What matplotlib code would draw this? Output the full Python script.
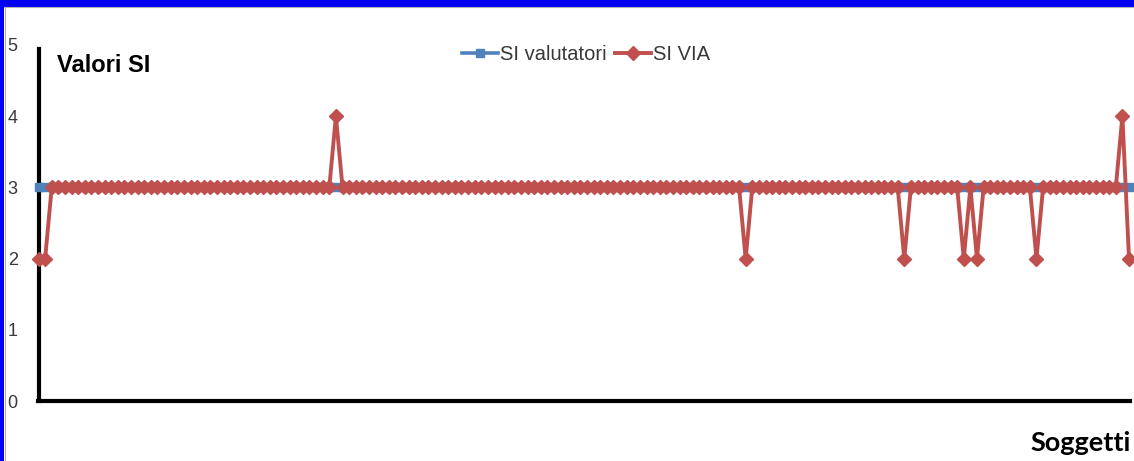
import matplotlib
matplotlib.use("Agg")
import matplotlib.pyplot as plt
from matplotlib.patches import Rectangle
from matplotlib.lines import Line2D
import numpy as np

# data: 166 subjects, evaluators all give 3
n_subjects = 166
si_valutatori = [3] * n_subjects
si_via = [3] * n_subjects
low_idx = [0, 1, 107, 131, 140, 142, 151, 165]   # SI VIA = 2
high_idx = [45, 164]                             # SI VIA = 4
for i in low_idx:
    si_via[i] = 2
for i in high_idx:
    si_via[i] = 4

y_ticks = [0, 1, 2, 3, 4, 5]
labels = ["SI valutatori", "SI VIA"]

BLUE = "#4F81BD"
RED = "#C0504D"
W, H = 1134, 461

fig = plt.figure(figsize=(W / 100, H / 100), dpi=100)
fig.patch.set_facecolor("white")

# blue frame of the slide (top band + left strip)
fig.patches.append(Rectangle((0, 1 - 7 / H), 1, 7 / H, transform=fig.transFigure,
                             facecolor="#0000F0", edgecolor="none", zorder=0))
fig.patches.append(Rectangle((0, 0), 4 / W, 1, transform=fig.transFigure,
                             facecolor="#0000FF", edgecolor="none", zorder=0))
fig.add_artist(Line2D([4.5 / W, 4.5 / W], [0, 1 - 7 / H], transform=fig.transFigure,
                      color="#B0B0B0", lw=0.8))
fig.add_artist(Line2D([4 / W, 1], [1 - 7.5 / H, 1 - 7.5 / H], transform=fig.transFigure,
                      color="#B0B0B0", lw=0.8))

left, right = 38.5, 1129
bottom, top = 401, 45
ax = fig.add_axes([left / W, 1 - bottom / H, (right - left) / W, (bottom - top) / H])

x = np.arange(n_subjects)
ax.plot(x, si_valutatori, color=BLUE, lw=2.6, marker="s", ms=6,
        mec=BLUE, mfc=BLUE, clip_on=False, zorder=3, label=labels[0])
ax.plot(x, si_via, color=RED, lw=2.8, marker="D", ms=7.5,
        mec=RED, mfc=RED, clip_on=False, zorder=4, label=labels[1])

ax.set_xlim(0, n_subjects - 1)
ax.set_ylim(0, 5)
ax.set_yticks(y_ticks)
ax.set_xticks([])
ax.tick_params(axis="y", length=0, pad=15, labelsize=13, labelcolor="#383838")
for lab in ax.get_yticklabels():
    lab.set_fontfamily("Liberation Sans")

for side in ["top", "right"]:
    ax.spines[side].set_visible(False)
ax.spines["left"].set_linewidth(3)
ax.spines["bottom"].set_linewidth(3)
ax.spines["left"].set_bounds(0, 4.95)
ax.spines["bottom"].set_bounds(-0.1, n_subjects - 0.8)
ax.spines["left"].set_capstyle("projecting")

leg = ax.legend(loc="upper center", bbox_to_anchor=(0.502, 1.05), ncol=2, frameon=False,
                prop={"family": "Liberation Sans", "size": 14.5},
                handlelength=1.8, handletextpad=0.1, columnspacing=0.4)
for t in leg.get_texts():
    t.set_color("#383838")

fig.text(57 / W, 1 - 66 / H, "Valori SI", fontsize=17, fontweight="bold",
         family="Liberation Sans", va="center", ha="left", color="black")
fig.text(1131 / W, 1 - 443 / H, "Soggetti", fontsize=19.5, fontweight="bold",
         family="Lato", va="center", ha="right", color="black")

fig.savefig("out.png", dpi=100, facecolor="white")
